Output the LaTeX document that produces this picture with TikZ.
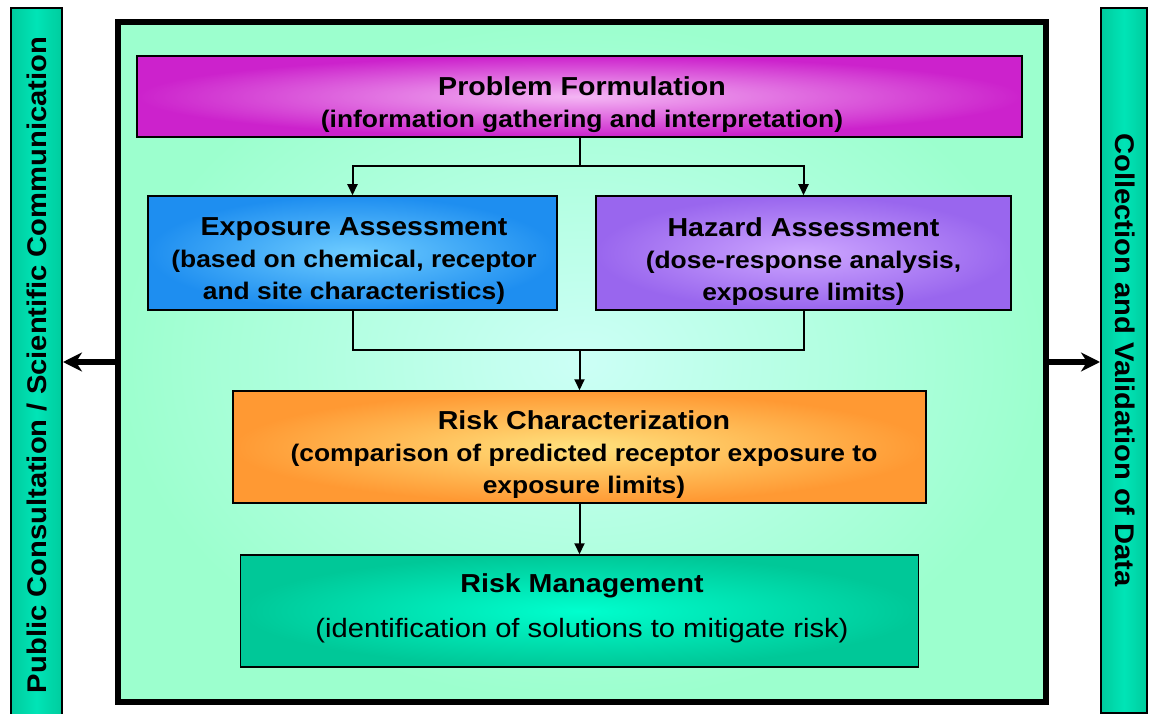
\documentclass[tikz,border=0pt]{standalone}
\usepackage{fontspec}
\setmainfont{Liberation Sans}[FakeStretch=1.1]
\newfontfamily\sidefont{Liberation Sans}[FakeStretch=1.08]
\usetikzlibrary{arrows.meta}
\definecolor{framein}{HTML}{CCFFF6}
\definecolor{frameout}{HTML}{9CFFCE}
\definecolor{probin}{HTML}{F4B6F4}
\definecolor{probout}{HTML}{CC22CC}
\definecolor{expoin}{HTML}{6ECCFF}
\definecolor{expoout}{HTML}{1E8EF0}
\definecolor{hazin}{HTML}{CDA6FF}
\definecolor{hazout}{HTML}{9966EE}
\definecolor{riskcin}{HTML}{FFE27E}
\definecolor{riskcout}{HTML}{FF9933}
\definecolor{riskmin}{HTML}{00FFCE}
\definecolor{riskmout}{HTML}{00C898}
\definecolor{barmid}{HTML}{00E4B6}
\definecolor{barside}{HTML}{00CC9E}
\newcommand\titlesz{\fontsize{26}{32}\selectfont}
\newcommand\subsz{\fontsize{24}{32}\selectfont}
\begin{document}
\begin{tikzpicture}[x=1pt, y=-1pt,
  stage/.style={draw=black, line width=1.5pt, inner sep=0pt},
  stagetext/.style={align=center, font=\bfseries\subsz},
  link/.style={line width=2pt, -{Triangle[length=11pt,width=10pt]}},
  sidebar/.style={draw=black, line width=2pt, inner sep=0pt, left color=barside, right color=barside, middle color=barmid},
  sidetext/.style={font=\sidefont\bfseries\fontsize{27}{30}\selectfont},
  bigarrow/.style={line width=5.5pt, -{Stealth[length=19pt,width=19pt,inset=6pt]}}]
\useasboundingbox (0,0) rectangle (1149,714);
\node[draw=black, line width=6pt, inner sep=0pt, minimum width=928pt, minimum height=680pt, inner color=framein, outer color=frameout] (frame) at (582,362){};
\node[sidebar, minimum width=51pt, minimum height=708pt] (pubbar) at (36.5,362){};
\node[sidebar, minimum width=46pt, minimum height=705pt] (databar) at (1124,360.5){};
\node[sidetext, rotate=90] (pubtext) at (37,365){Public Consultation / Scientific Communication};
\node[sidetext, rotate=-90] (datatext) at (1125,360){Collection and Validation of Data};
\draw[bigarrow] (frame.west) -- (frame.west -| pubbar.east);
\draw[bigarrow] (frame.east) -- (frame.east -| databar.west);
\node[stage, minimum width=885pt, minimum height=81pt, inner color=probin, outer color=probout] (prob) at (579.5,96.5){};
\node[stagetext] (probtext) at (582,104.5){{\titlesz Problem Formulation}\\(information gathering and interpretation)};
\node[stage, minimum width=409pt, minimum height=114pt, inner color=expoin, outer color=expoout] (expo) at (352.5,253){};
\node[stagetext] (expotext) at (354,261.5){{\titlesz Exposure Assessment}\\(based on chemical, receptor\\and site characteristics)};
\node[stage, minimum width=415pt, minimum height=114pt, inner color=hazin, outer color=hazout] (haz) at (803.5,253){};
\node[stagetext] (haztext) at (803.5,261.5){{\titlesz Hazard Assessment}\\(dose-response analysis,\\exposure limits)};
\node[stage, minimum width=693pt, minimum height=112pt, inner color=riskcin, outer color=riskcout] (riskc) at (579.5,447){};
\node[stagetext] (riskctext) at (584,455){{\titlesz Risk Characterization}\\(comparison of predicted receptor exposure to\\exposure limits)};
\node[stage, minimum width=678pt, minimum height=112pt, inner color=riskmin, outer color=riskmout] (riskm) at (579.5,611){};
\node[stagetext] (riskmtext) at (582,608.5){{\titlesz Risk Management}\\[13pt]{\mdseries\fontsize{26.5}{32}\selectfont (identification of solutions to mitigate risk)}};
\coordinate (split) at (579.5,166);
\coordinate (join) at (579.5,350);
\draw[line width=2pt] (prob.south) -- (split);
\draw[link] (split) -| (expo.north);
\draw[link] (split) -| (haz.north);
\draw[line width=2pt] (expo.south) |- (join) -| (haz.south);
\draw[link] (join) -- (riskc.north);
\draw[link] (riskc.south) -- (riskm.north);
\end{tikzpicture}
\end{document}
